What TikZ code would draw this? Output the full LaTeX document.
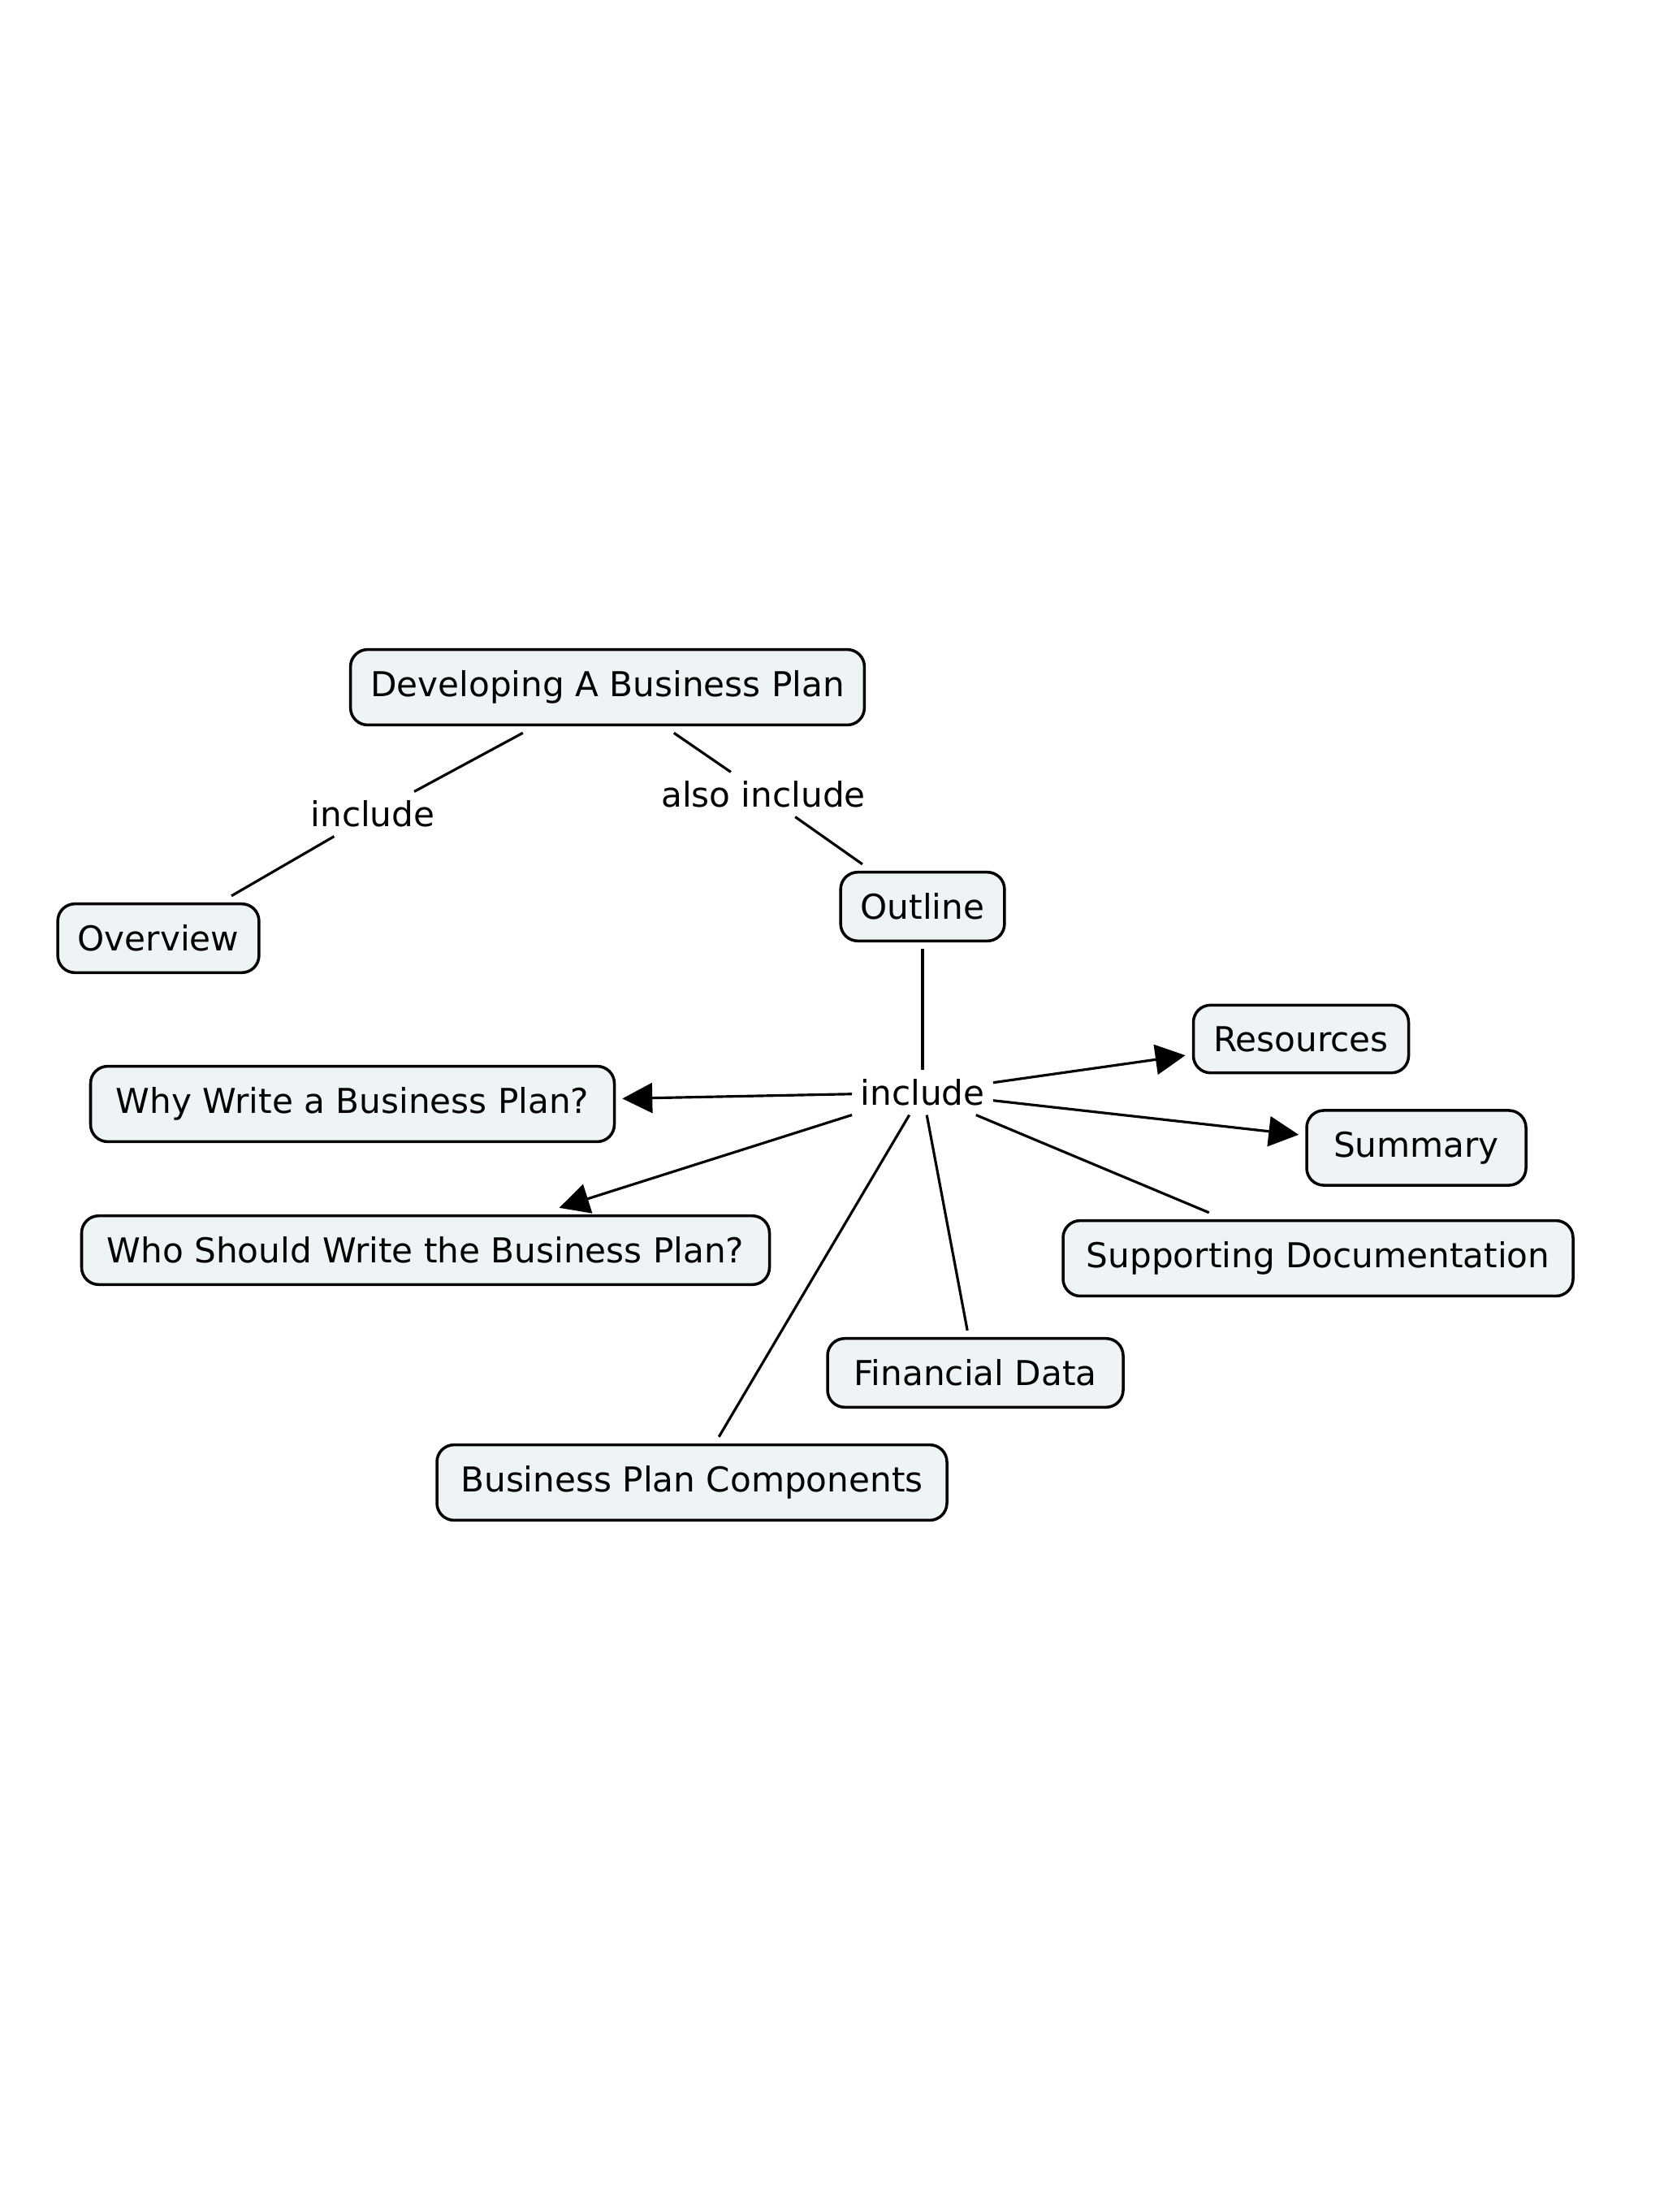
\documentclass[tikz,border=0pt]{standalone}
\usepackage{fontspec}
\setmainfont{DejaVu Sans}
\usepackage{xcolor}
\usetikzlibrary{arrows.meta}

\definecolor{boxfill}{RGB}{238,243,245}

\begin{document}
\begin{tikzpicture}[scale=1,
        concept/.style={draw,fill=boxfill,rounded corners=6pt,line width=1pt,
            inner xsep=7pt,inner ysep=7.4pt,outer sep=2.8pt,
            font=\fontsize{12}{14}\selectfont},
        linkword/.style={inner xsep=3pt,inner ysep=3.2pt,outer sep=0pt,
            font=\fontsize{12}{14}\selectfont},
        link/.style={line width=0.9pt},
        linkarrow/.style={line width=0.9pt,-{Triangle[length=10.5pt,width=10.5pt]}}]
            \useasboundingbox (0,0) rectangle (20.48,-27.23);

            \node (dev) at (7.48,-8.46) [concept,minimum width=6.26cm] {Developing A Business Plan};
            \node (ov) at (1.95,-11.55) [concept,minimum width=2.47cm] {Overview};
            \node (outl) at (11.36,-11.16) [concept,minimum width=2.01cm] {Outline};
            \node (res) at (16.02,-12.79) [concept,minimum width=2.65cm] {Resources};
            \node (summ) at (17.44,-14.13) [concept,minimum width=2.70cm] {Summary};
            \node (why) at (4.34,-13.59) [concept,minimum width=6.45cm] {Why Write a Business Plan?};
            \node (who) at (5.24,-15.39) [concept,minimum width=8.47cm] {Who Should Write the Business Plan?};
            \node (supp) at (16.23,-15.49) [concept,minimum width=6.28cm] {Supporting Documentation};
            \node (fin) at (12.01,-16.90) [concept,minimum width=3.64cm] {Financial Data};
            \node (bpc) at (8.52,-18.25) [concept,minimum width=6.28cm] {Business Plan Components};

            \node (incl) at (4.59,-10.02) [linkword] {include};
            \node (also) at (9.40,-9.78) [linkword] {also include};
            \node (parts) at (11.36,-13.45) [linkword] {include};

            \draw[link] (dev) -- (incl) (incl) -- (ov) ;
            \draw[link] (dev) -- (also) (also) -- (outl) ;
            \draw[link] (outl) -- (parts) ;

            \draw[linkarrow] (parts) -- (why) ;
            \draw[linkarrow] (parts) -- (who) ;
            \draw[linkarrow] (parts) -- (res) ;
            \draw[linkarrow] (parts) -- (summ) ;
            \draw[link] (parts) -- (supp) (parts) -- (fin) (parts) -- (bpc) ;

        \end{tikzpicture}
\end{document}
